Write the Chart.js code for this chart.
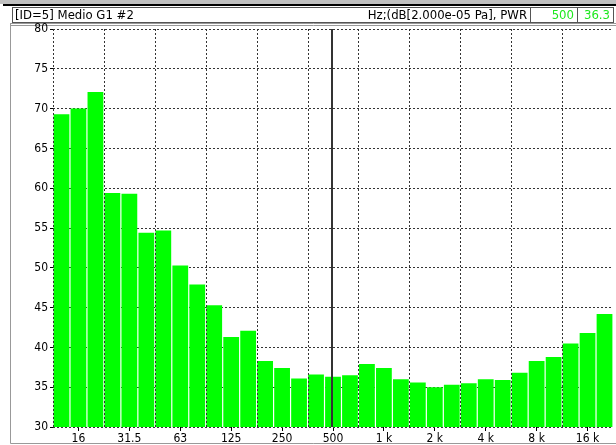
<!DOCTYPE html>
<html>
<head>
<meta charset="utf-8">
<script src="https://cdn.jsdelivr.net/npm/chart.js@4.4.0/dist/chart.umd.min.js"></script>
<style>
  body { margin: 0; background: #fff; }
  #wrap { width: 616px; height: 445px; }
</style>
</head>
<body>
<div id="wrap"><canvas id="spec" width="616" height="445"></canvas></div>
<script>
// 1/3 octave bands, 12.5 Hz .. 20 kHz
const bands = ['12.5', '16', '20', '25', '31.5', '40', '50', '63', '80', '100', '125', '160',
  '200', '250', '315', '400', '500', '630', '800', '1 k', '1.25 k', '1.6 k', '2 k', '2.5 k',
  '3.15 k', '4 k', '5 k', '6.3 k', '8 k', '10 k', '12.5 k', '16 k', '20 k'];
// dB levels
const levels = [69.3, 70.0, 72.1, 59.4, 59.3, 54.4, 54.7, 50.3, 47.9, 45.3, 41.3, 42.1,
  38.3, 37.4, 36.1, 36.6, 36.3, 36.5, 37.9, 37.4, 36.0, 35.6, 35.0, 35.3,
  35.5, 36.0, 35.9, 36.8, 38.3, 38.8, 40.5, 41.8, 44.2];
// bands that get a label on the x axis
const tickLabels = ['16', '31.5', '63', '125', '250', '500', '1 k', '2 k', '4 k', '8 k', '16 k'];
const yTicks = [30, 35, 40, 45, 50, 55, 60, 65, 70, 75, 80];

const title = '[ID=5] Medio G1 #2';
const units = 'Hz;(dB[2.000e-05 Pa], PWR';
const cursorBand = '500';
const cursorValue = '36.3';

const narrow = "'Liberation Sans Narrow', 'DejaVu Sans Condensed', 'Liberation Sans', Arial, sans-serif";
Chart.defaults.font.family = narrow;
Chart.defaults.color = '#000';

// frame + header box, drawn behind everything
const framePlugin = {
  id: 'frame',
  beforeDraw(chart) {
    const ctx = chart.ctx;
    ctx.save();
    ctx.fillStyle = '#fff';
    ctx.fillRect(0, 0, 616, 445);
    ctx.fillStyle = '#c0c0c0';
    ctx.fillRect(0, 0, 616, 4);
    ctx.fillStyle = '#000';
    ctx.fillRect(3, 4, 613, 2);

    ctx.strokeStyle = '#555';
    ctx.lineWidth = 1;
    ctx.strokeRect(12.5, 7.5, 601, 15);
    ctx.beginPath();
    ctx.moveTo(530.5, 7.5); ctx.lineTo(530.5, 22.5);
    ctx.moveTo(577.5, 7.5); ctx.lineTo(577.5, 22.5);
    ctx.stroke();

    ctx.strokeStyle = '#999';
    ctx.beginPath();
    ctx.moveTo(11, 23.5); ctx.lineTo(616, 23.5);
    ctx.moveTo(11, 25.5); ctx.lineTo(616, 25.5);
    ctx.moveTo(10.5, 23); ctx.lineTo(10.5, 443.5);
    ctx.lineTo(616, 443.5);
    ctx.stroke();

    ctx.font = '13px ' + narrow;
    ctx.textBaseline = 'middle';
    ctx.fillStyle = '#000';
    ctx.textAlign = 'left';
    ctx.fillText(title, 15, 15.5);
    ctx.textAlign = 'right';
    ctx.fillText(units, 527, 15.5);
    ctx.fillStyle = '#1ee81e';
    ctx.fillText(cursorBand, 574, 15.5);
    ctx.fillText(cursorValue, 610, 15.5);
    ctx.restore();
  }
};

// octave grid lines and the cursor, on top of the bars
const overlayPlugin = {
  id: 'overlay',
  afterDatasetsDraw(chart) {
    const ctx = chart.ctx;
    const x = chart.scales.x;
    const area = chart.chartArea;
    const half = (x.getPixelForValue(1) - x.getPixelForValue(0)) / 2;
    ctx.save();
    ctx.strokeStyle = '#333';
    ctx.lineWidth = 1;
    ctx.setLineDash([2, 2]);
    for (let i = 0; i < bands.length; i += 3) {
      const px = Math.round(x.getPixelForValue(i) - half) + 0.5;
      ctx.beginPath();
      ctx.moveTo(px, area.top);
      ctx.lineTo(px, area.bottom);
      ctx.stroke();
    }
    ctx.setLineDash([]);
    ctx.strokeStyle = '#333';
    ctx.lineWidth = 2;
    const cx = Math.round(x.getPixelForValue(bands.indexOf(cursorBand))) - 1;
    ctx.beginPath();
    ctx.moveTo(cx, area.top);
    ctx.lineTo(cx, area.bottom);
    ctx.stroke();
    ctx.restore();
  }
};

new Chart(document.getElementById('spec'), {
  type: 'bar',
  data: {
    labels: bands,
    datasets: [{
      data: levels,
      backgroundColor: '#00ff00',
      borderWidth: 0,
      barPercentage: 0.93,
      categoryPercentage: 1.0
    }]
  },
  options: {
    responsive: false,
    animation: false,
    layout: { padding: { top: 29, right: 3, left: 0, bottom: 0 } },
    plugins: { legend: { display: false }, tooltip: { enabled: false } },
    scales: {
      x: {
        afterFit(s) { s.height = 18; },
        border: { display: false },
        grid: {
          drawOnChartArea: false,
          offset: false,
          tickLength: 4,
          tickColor: (c) => tickLabels.includes(bands[c.index]) ? '#000' : 'rgba(0,0,0,0)'
        },
        ticks: {
          autoSkip: false,
          maxRotation: 0,
          padding: 1,
          font: { size: 12 },
          callback: (v, i) => tickLabels.includes(bands[i]) ? bands[i] : ''
        }
      },
      y: {
        z: 1,
        min: yTicks[0],
        max: yTicks[yTicks.length - 1],
        afterFit(s) { s.width = 53; },
        afterBuildTicks(s) { s.ticks = yTicks.map(v => ({ value: v })); },
        border: { display: false, dash: [2, 2] },
        grid: {
          color: '#333',
          tickColor: '#000',
          tickLength: 3
        },
        ticks: { padding: 2, font: { size: 12 } }
      }
    }
  },
  plugins: [framePlugin, overlayPlugin]
});
</script>
</body>
</html>
